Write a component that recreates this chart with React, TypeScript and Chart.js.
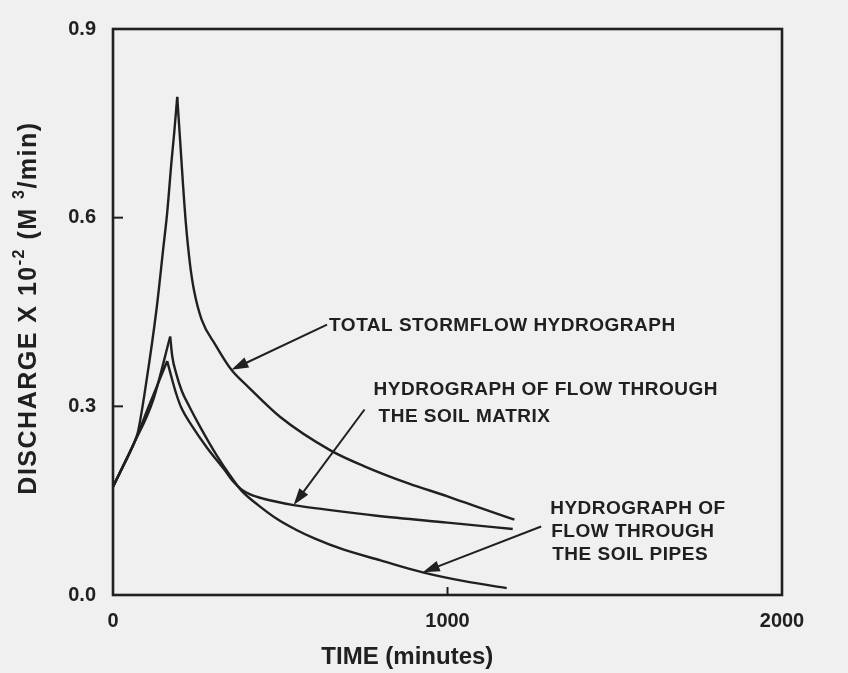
import React, { useEffect, useRef } from "react";
import { Chart, registerables } from "chart.js";

Chart.register(...registerables);

// ---- data (time in minutes, discharge in 10^-2 m^3/min) ----
const totalTime = [0, 30, 60, 74, 100, 130, 150, 162, 175, 183, 192, 201, 209, 218, 230, 242, 265, 307, 354, 404, 500, 650, 750, 885, 1000, 1100, 1200];
const totalQ = [0.172, 0.205, 0.238, 0.258, 0.34, 0.454, 0.55, 0.608, 0.69, 0.735, 0.792, 0.72, 0.655, 0.59, 0.527, 0.485, 0.438, 0.397, 0.358, 0.331, 0.283, 0.23, 0.205, 0.177, 0.157, 0.138, 0.12];

const matrixTime = [0, 60, 110, 162, 174, 189, 204, 236, 280, 336, 360, 384, 410, 450, 540, 650, 788, 1000, 1195];
const matrixQ = [0.172, 0.238, 0.304, 0.372, 0.348, 0.32, 0.298, 0.269, 0.235, 0.197, 0.18, 0.168, 0.16, 0.153, 0.143, 0.135, 0.126, 0.115, 0.105];

const pipesTime = [0, 60, 120, 171, 177, 189, 206, 227, 263, 310, 350, 384, 434, 493, 550, 602, 690, 800, 926, 1050, 1177];
const pipesQ = [0.172, 0.238, 0.31, 0.411, 0.38, 0.352, 0.324, 0.301, 0.265, 0.222, 0.19, 0.166, 0.143, 0.12, 0.103, 0.09, 0.072, 0.055, 0.036, 0.022, 0.011];

const xTicks = [0, 1000, 2000];
const yTicks = [0, 0.3, 0.6, 0.9];

const xTitle = "TIME (minutes)";
const yTitleParts = [
  { text: "DISCHARGE X 10", sup: false },
  { text: "-2", sup: true },
  { text: " (M ", sup: false },
  { text: "3", sup: true },
  { text: "/min)", sup: false },
];

// label lines anchored in data units (left edge, vertical middle)
const labelText = [
  "TOTAL STORMFLOW HYDROGRAPH",
  "HYDROGRAPH OF FLOW THROUGH",
  "THE SOIL MATRIX",
  "HYDROGRAPH OF",
  "FLOW THROUGH",
  "THE SOIL PIPES",
];
const labelTime = [646, 779, 794, 1307, 1310, 1313];
const labelQ = [0.428, 0.326, 0.283, 0.137, 0.1, 0.0646];

// arrows: tail -> tip (tip lies on the curve)
const arrowTailTime = [640, 752, 1280];
const arrowTailQ = [0.43, 0.295, 0.109];
const arrowTipTime = [354, 540, 926];
const arrowTipQ = [0.358, 0.143, 0.036];

const INK = "#202020";
const BG = "#f0f0f0";
const FONT = "'Liberation Sans', Arial, sans-serif";

const decorPlugin = {
  id: "decor",
  beforeDraw(chart: any) {
    const { ctx, width, height } = chart;
    ctx.save();
    ctx.fillStyle = BG;
    ctx.fillRect(0, 0, width, height);
    ctx.restore();
  },
  afterDraw(chart: any) {
    const { ctx, chartArea: a } = chart;
    const x = chart.scales.x;
    const y = chart.scales.y;
    ctx.save();
    ctx.strokeStyle = INK;
    ctx.lineWidth = 2.6;
    ctx.strokeRect(a.left, a.top, a.right - a.left, a.bottom - a.top);

    // inward tick marks
    ctx.lineWidth = 2;
    yTicks.forEach((v) => {
      if (v > 0 && v < 0.9) {
        const py = y.getPixelForValue(v);
        ctx.beginPath();
        ctx.moveTo(a.left, py);
        ctx.lineTo(a.left + 10, py);
        ctx.stroke();
      }
    });
    xTicks.forEach((v) => {
      if (v > 0 && v < 2000) {
        const px = x.getPixelForValue(v);
        ctx.beginPath();
        ctx.moveTo(px, a.bottom);
        ctx.lineTo(px, a.bottom - 8);
        ctx.stroke();
      }
    });

    // labels
    ctx.fillStyle = INK;
    ctx.font = `bold 19px ${FONT}`;
    (ctx as any).letterSpacing = "0.5px";
    ctx.textAlign = "left";
    ctx.textBaseline = "middle";
    labelText.forEach((s, i) => {
      ctx.fillText(s, x.getPixelForValue(labelTime[i]), y.getPixelForValue(labelQ[i]));
    });
    (ctx as any).letterSpacing = "0px";

    // arrows
    arrowTailTime.forEach((_, i) => {
      const x0 = x.getPixelForValue(arrowTailTime[i]);
      const y0 = y.getPixelForValue(arrowTailQ[i]);
      const x1 = x.getPixelForValue(arrowTipTime[i]);
      const y1 = y.getPixelForValue(arrowTipQ[i]);
      const ang = Math.atan2(y1 - y0, x1 - x0);
      const len = 17;
      const hw = 5.5;
      ctx.lineWidth = 2;
      ctx.beginPath();
      ctx.moveTo(x0, y0);
      ctx.lineTo(x1 - Math.cos(ang) * len * 0.6, y1 - Math.sin(ang) * len * 0.6);
      ctx.stroke();
      const bx = x1 - Math.cos(ang) * len;
      const by = y1 - Math.sin(ang) * len;
      ctx.beginPath();
      ctx.moveTo(x1, y1);
      ctx.lineTo(bx + Math.sin(ang) * hw, by - Math.cos(ang) * hw);
      ctx.lineTo(bx - Math.sin(ang) * hw, by + Math.cos(ang) * hw);
      ctx.closePath();
      ctx.fill();
    });

    // x title
    ctx.font = `bold 24px ${FONT}`;
    ctx.textAlign = "center";
    ctx.textBaseline = "middle";
    ctx.fillText(xTitle, x.getPixelForValue(880), a.bottom + 62);

    // y title (rotated, with superscripts)
    const normalFont = `bold 25px ${FONT}`;
    const supFont = `bold 16px ${FONT}`;
    (ctx as any).letterSpacing = "1.5px";
    let total = 0;
    const widths = yTitleParts.map((p) => {
      ctx.font = p.sup ? supFont : normalFont;
      const w = ctx.measureText(p.text).width;
      total += w;
      return w;
    });
    ctx.translate(29, (a.top + a.bottom) / 2 - 4);
    ctx.rotate(-Math.PI / 2);
    ctx.textAlign = "left";
    let cx = -total / 2;
    yTitleParts.forEach((p, i) => {
      ctx.font = p.sup ? supFont : normalFont;
      ctx.fillText(p.text, cx, p.sup ? -9 : 0);
      cx += widths[i];
    });
    ctx.restore();
  },
};

// split a hydrograph into rising and recession limbs so the peak stays a cusp
function limbs(t: number[], q: number[]) {
  let k = 0;
  q.forEach((v, i) => {
    if (v > q[k]) k = i;
  });
  const p = t.map((v, i) => ({ x: v, y: q[i] }));
  return [p.slice(0, k + 1), p.slice(k)];
}

export default function App() {
  const ref = useRef<HTMLCanvasElement>(null);

  useEffect(() => {
    document.body.style.margin = "0";
    const canvas = ref.current;
    if (!canvas) return;
    const line = (label: string, data: any) => ({
      label,
      data,
      borderColor: INK,
      borderWidth: 2.4,
      pointRadius: 0,
      fill: false,
      cubicInterpolationMode: "monotone",
    });
    const [tR, tF] = limbs(totalTime, totalQ);
    const [mR, mF] = limbs(matrixTime, matrixQ);
    const [pR, pF] = limbs(pipesTime, pipesQ);
    const chart = new Chart(canvas, {
      type: "line",
      data: {
        datasets: [
          line("Total stormflow (rising)", tR),
          line("Total stormflow (recession)", tF),
          line("Soil matrix (rising)", mR),
          line("Soil matrix (recession)", mF),
          line("Soil pipes (rising)", pR),
          line("Soil pipes (recession)", pF),
        ],
      },
      options: {
        animation: false,
        responsive: false,
        devicePixelRatio: 1,
        layout: { padding: { left: 0, top: 10, right: 66, bottom: 0 } },
        plugins: {
          legend: { display: false },
          tooltip: { enabled: false },
        },
        scales: {
          x: {
            type: "linear",
            min: 0,
            max: 2000,
            afterBuildTicks: (s: any) => {
              s.ticks = xTicks.map((v) => ({ value: v }));
            },
            afterFit: (s: any) => {
              s.height = 78;
            },
            grid: { display: false, drawTicks: false },
            border: { display: false },
            ticks: {
              padding: 14,
              color: INK,
              font: { family: FONT, size: 20, weight: "bold" },
              maxRotation: 0,
              callback: (v: any) => String(v),
            },
          },
          y: {
            type: "linear",
            min: 0,
            max: 0.9,
            afterBuildTicks: (s: any) => {
              s.ticks = yTicks.map((v) => ({ value: v }));
            },
            afterFit: (s: any) => {
              s.width = 113;
            },
            grid: { display: false, drawTicks: false },
            border: { display: false },
            ticks: {
              padding: 17,
              color: INK,
              font: { family: FONT, size: 20, weight: "bold" },
              callback: (v: any) => Number(v).toFixed(1),
            },
          },
        },
      } as any,
      plugins: [decorPlugin],
    });
    return () => chart.destroy();
  }, []);

  return (
    <div style={{ width: 848, height: 673 }}>
      <canvas ref={ref} width={848} height={673} style={{ display: "block", width: 848, height: 673 }} />
    </div>
  );
}
